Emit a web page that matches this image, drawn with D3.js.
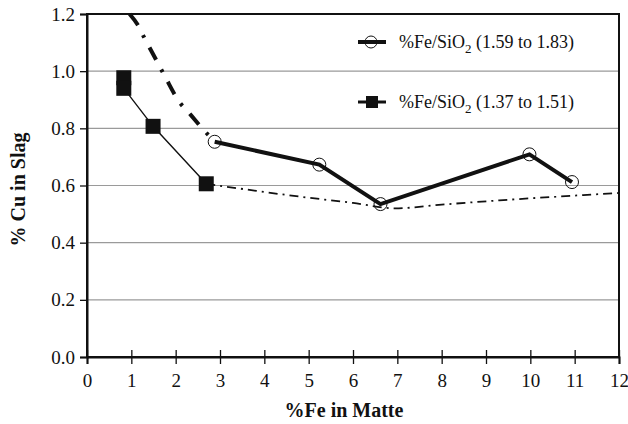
<!DOCTYPE html>
<html>
  <meta charset="utf-8" />
  <head>
    <script src="https://cdnjs.cloudflare.com/ajax/libs/d3/7.8.5/d3.min.js"></script>
    <style>
      body { margin: 0; background: #fff; }
      svg text { font-family: "Liberation Serif", Tinos, "Times New Roman", Times, "Nimbus Roman", "Noto Serif", FreeSerif, "DejaVu Serif", serif; fill: #111; }
    </style>
  </head>
  <body>
    <script>
    // high Fe/SiO2 series (open circles, thick line)
    const feHigh = [2.88, 5.24, 6.62, 9.98, 10.94];
    const cuHigh = [0.753, 0.673, 0.535, 0.709, 0.612];
    // low Fe/SiO2 series (filled squares, thin line)
    const feLow = [0.83, 0.83, 1.49, 2.69];
    const cuLow = [0.977, 0.940, 0.807, 0.606];
    // trend lines
    const trendHighX = [0.96, 1.14, 1.30, 1.60, 1.78, 2.08, 2.33, 2.57, 2.88];
    const trendHighY = [1.2, 1.163, 1.115, 1.028, 0.975, 0.893, 0.849, 0.805, 0.753];
    const trendLowX = [2.69, 4.8, 6.0, 6.95, 8.0, 9.3, 10.6, 12.0];
    const trendLowY = [0.606, 0.561, 0.539, 0.520, 0.533, 0.548, 0.561, 0.574];

    const xTicks = d3.range(0, 13);
    const yTicks = [0, 0.2, 0.4, 0.6, 0.8, 1.0, 1.2];
    const legendLabels = [["%Fe/SiO", "2", " (1.59 to 1.83)"], ["%Fe/SiO", "2", " (1.37 to 1.51)"]];

    const width = 628, height = 424;
    const margin = { top: 14, right: 9, bottom: 67, left: 87 };

    const svg = d3.select("body").append("svg")
        .attr("width", width)
        .attr("height", height);

    const x = d3.scaleLinear().domain([0, 12]).range([margin.left, width - margin.right]);
    const y = d3.scaleLinear().domain([0, 1.2]).range([height - margin.bottom, margin.top]);

    // gridlines
    svg.append("g")
        .selectAll("line")
        .data(yTicks.filter(d => d > 0 && d < 1.2))
        .join("line")
        .attr("x1", x(0)).attr("x2", x(12))
        .attr("y1", d => y(d)).attr("y2", d => y(d))
        .attr("stroke", "#9a9a9a")
        .attr("stroke-width", 1.2);

    // frame
    svg.append("rect")
        .attr("x", x(0)).attr("y", y(1.2))
        .attr("width", x(12) - x(0)).attr("height", y(0) - y(1.2))
        .attr("fill", "none")
        .attr("stroke", "#111")
        .attr("stroke-width", 2);

    // axes
    const xAxis = svg.append("g")
        .attr("transform", `translate(0,${y(0)})`)
        .call(d3.axisBottom(x).tickValues(xTicks).tickSize(7).tickPadding(10).tickFormat(d3.format("d")));
    xAxis.attr("font-family", null);
    xAxis.select(".domain").attr("stroke-width", 2).attr("stroke", "#111");
    xAxis.selectAll(".tick line").attr("y1", -7).attr("stroke", "#111").attr("stroke-width", 1.3);
    xAxis.selectAll("text").attr("font-size", 19);

    const yAxis = svg.append("g")
        .attr("transform", `translate(${x(0)},0)`)
        .call(d3.axisLeft(y).tickValues(yTicks).tickSize(7).tickPadding(5).tickFormat(d3.format(".1f")));
    yAxis.attr("font-family", null);
    yAxis.select(".domain").attr("stroke-width", 2).attr("stroke", "#111");
    yAxis.selectAll(".tick line").attr("stroke", "#111").attr("stroke-width", 1.3);
    yAxis.selectAll("text").attr("font-size", 19);

    // axis titles
    svg.append("text")
        .attr("x", 344).attr("y", 417)
        .attr("text-anchor", "middle")
        .attr("font-size", 20).attr("font-weight", "bold")
        .text("%Fe in Matte");
    svg.append("text")
        .attr("transform", `translate(25,${(y(0) + y(1.2)) / 2 + 4}) rotate(-90)`)
        .attr("text-anchor", "middle")
        .attr("font-size", 20).attr("font-weight", "bold")
        .text("% Cu in Slag");

    const line = d3.line().x(d => x(d[0])).y(d => y(d[1]));
    const curve = d3.line().x(d => x(d[0])).y(d => y(d[1])).curve(d3.curveMonotoneX);

    const plot = svg.append("g");

    // trend lines (dash-dot)
    plot.append("path")
        .datum(d3.zip(trendHighX, trendHighY))
        .attr("d", curve)
        .attr("fill", "none")
        .attr("stroke", "#111")
        .attr("stroke-width", 4)
        .attr("stroke-dasharray", "14,11,3,11");
    plot.append("path")
        .datum(d3.zip(trendLowX, trendLowY))
        .attr("d", curve)
        .attr("fill", "none")
        .attr("stroke", "#111")
        .attr("stroke-width", 1.8)
        .attr("stroke-dasharray", "9,5,2,5");

    // low series
    plot.append("path")
        .datum(d3.zip(feLow, cuLow))
        .attr("d", line)
        .attr("fill", "none")
        .attr("stroke", "#111")
        .attr("stroke-width", 1.4);
    plot.selectAll("rect.sq")
        .data(d3.zip(feLow, cuLow))
        .join("rect")
        .attr("class", "sq")
        .attr("x", d => x(d[0]) - 7.5).attr("y", d => y(d[1]) - 7.5)
        .attr("width", 15).attr("height", 15)
        .attr("fill", "#111");

    // high series
    plot.append("path")
        .datum(d3.zip(feHigh, cuHigh))
        .attr("d", line)
        .attr("fill", "none")
        .attr("stroke", "#111")
        .attr("stroke-width", 4);
    plot.selectAll("circle.pt")
        .data(d3.zip(feHigh, cuHigh))
        .join("circle")
        .attr("class", "pt")
        .attr("cx", d => x(d[0])).attr("cy", d => y(d[1]))
        .attr("r", 6.5)
        .attr("fill", "none")
        .attr("stroke", "#111")
        .attr("stroke-width", 1);

    // legend
    const legend = svg.append("g");
    const legY = [42, 102];
    legendLabels.forEach((lab, i) => {
        const g = legend.append("g").attr("transform", `translate(0,${legY[i]})`);
        g.append("line")
            .attr("x1", 358).attr("x2", 386)
            .attr("stroke", "#111")
            .attr("stroke-width", i === 0 ? 4 : 3);
        if (i === 0) {
            g.append("circle").attr("cx", 371).attr("r", 6)
                .attr("fill", "none").attr("stroke", "#111").attr("stroke-width", 1);
        } else {
            g.append("rect").attr("x", 366).attr("y", -6).attr("width", 12).attr("height", 12)
                .attr("fill", "#111");
        }
        const t = g.append("text").attr("x", 399).attr("y", 6).attr("font-size", 18);
        t.append("tspan").text(lab[0]);
        t.append("tspan").attr("dy", 5).attr("font-size", 13).text(lab[1]);
        t.append("tspan").attr("dy", -5).text(lab[2]);
    });
    </script>
  </body>
</html>
